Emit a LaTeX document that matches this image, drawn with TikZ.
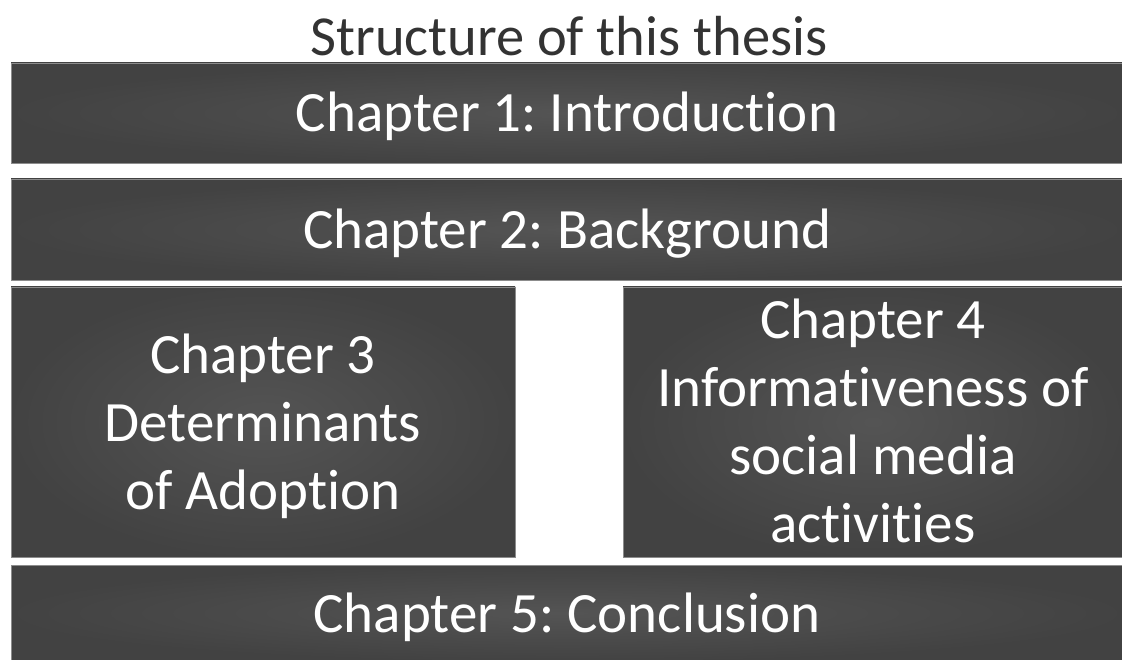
\documentclass[tikz,border=0pt]{standalone}
\usepackage{fontspec}
\setmainfont[Ligatures=NoCommon]{Carlito}
\frenchspacing
\begin{document}
\begin{tikzpicture}[x=1pt,y=-1pt,
  chapbox/.style={inner sep=0pt, outer sep=0pt, draw=black!45, line width=0.8pt,
    inner color=black!67, outer color=black!74, text=white,
    text height=38pt, text depth=0pt,
    font=\fontsize{57}{68}\selectfont, align=center},
  titletext/.style={text=black!80, font=\fontsize{56.5}{60}\selectfont, inner sep=0pt}]
  \useasboundingbox (0,0) rectangle (1122,660);
  \fill[white] (0,0) rectangle (1122,660);
  % page title
  \node[titletext] (title) at (569,36) {Structure of this thesis};
  % chapter blocks (text height covers every line above the last baseline)
  \node[chapbox, minimum width=1112pt, minimum height=100pt] (c1) at (567,113) {Chapter 1: Introduction};
  \node[chapbox, minimum width=1112pt, minimum height=101pt] (c2) at (567,229.5) {Chapter 2: Background};
  \node[chapbox, text height=174pt, minimum width=504pt, minimum height=270pt] (c3) at (263,422) {Chapter 3\\Determinants\\of Adoption};
  \node[chapbox, text height=240pt, minimum width=500pt, minimum height=270pt] (c4) at (873,422) {Chapter 4\\Informativeness of\\social media\\activities};
  \node[chapbox, minimum width=1112pt, minimum height=96pt] (c5) at (567,613) {Chapter 5: Conclusion};
\end{tikzpicture}
\end{document}
